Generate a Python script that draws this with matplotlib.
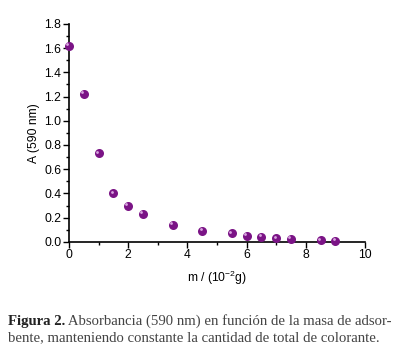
import matplotlib.pyplot as plt
import matplotlib.transforms as mtransforms
from matplotlib.ticker import MultipleLocator

plt.rcParams['font.family'] = 'Liberation Sans'
plt.rcParams['mathtext.fontset'] = 'custom'
plt.rcParams['mathtext.rm'] = 'Liberation Sans'
plt.rcParams['mathtext.it'] = 'Liberation Sans'

# masa de adsorbente (10^-2 g) y absorbancia a 590 nm
masa = [0, 0.5, 1, 1.5, 2, 2.5, 3.5, 4.5, 5.5, 6, 6.5, 7, 7.5, 8.5, 9]
absorbancia = [1.62, 1.22, 0.73, 0.40, 0.30, 0.23, 0.14, 0.09, 0.07, 0.05, 0.04, 0.03, 0.025, 0.012, 0.006]

fig = plt.figure(figsize=(3.96, 3.51), dpi=100)
ax = fig.add_axes([0.174, 0.311, 0.748, 0.621])

ax.plot(masa, absorbancia, 'o', color='#7b1486', markersize=6.5, markeredgewidth=0, clip_on=False, zorder=3)
# brillo de las esferas
shine = mtransforms.offset_copy(ax.transData, fig=fig, x=-1.2, y=1.2, units='points')
ax.plot(masa, absorbancia, 'o', color='#d9a6e0', markersize=2, markeredgewidth=0,
        transform=shine, clip_on=False, zorder=4)

ax.set_xlim(0, 10)
ax.set_ylim(0, 1.8)
ax.xaxis.set_major_locator(MultipleLocator(2))
ax.xaxis.set_minor_locator(MultipleLocator(1))
ax.yaxis.set_major_locator(MultipleLocator(0.2))
ax.yaxis.set_minor_locator(MultipleLocator(0.1))
ax.yaxis.set_major_formatter(lambda v, p: f'{v:.1f}')

for s in ['top', 'right']:
    ax.spines[s].set_visible(False)
for s in ['left', 'bottom']:
    ax.spines[s].set_linewidth(1.2)
ax.tick_params(which='major', length=4, width=1, labelsize=8.7, pad=1.5)
ax.tick_params(which='minor', length=2.5, width=1)

ax.set_xlabel('m / (10$^{-2}$g)', fontsize=8.7, labelpad=5)
ax.set_ylabel('A (590 nm)', fontsize=8.7, labelpad=3)

# pie de figura
cap = fig.text(0.02, 0.074, 'Figura 2.', fontsize=10.6, family='Liberation Serif',
               weight='bold', color='#222222')
ax.annotate(' Absorbancia (590 nm) en función de la masa de adsor-', xy=(1, 0), xycoords=cap,
            fontsize=10.6, family='Liberation Serif', color='#444444', va='bottom', ha='left')
fig.text(0.02, 0.028, 'bente, manteniendo constante la cantidad de total de colorante.',
         fontsize=10.6, family='Liberation Serif', color='#444444')

fig.savefig('out.png', dpi=100)
